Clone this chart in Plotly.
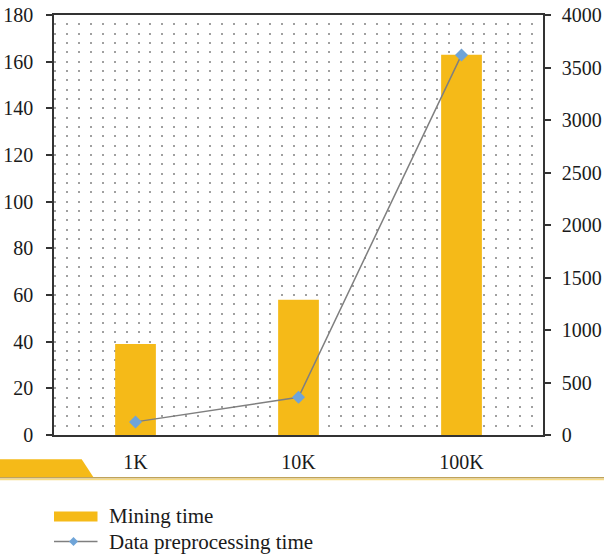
import plotly.graph_objects as go

categories = ["1K", "10K", "100K"]
mining_time = [39, 58, 163]
preprocessing_time = [125, 360, 3620]
left_ticks = list(range(0, 181, 20))
right_ticks = list(range(0, 4001, 500))

BAR = "#F5BA18"
FONT = "Liberation Serif"

W, H = 604, 557
L, R, T, B = 54, 543, 15, 435


def px(x):
    return (x - L) / (R - L)


def py(y):
    return (B - y) / (B - T)


fig = go.Figure()
fig.add_trace(go.Bar(x=categories, y=mining_time, name="Mining time",
                     marker=dict(color=BAR, line=dict(width=0)),
                     yaxis="y", showlegend=False))
fig.add_trace(go.Scatter(x=categories, y=preprocessing_time,
                         name="Data preprocessing time", mode="lines+markers",
                         line=dict(color="#7f7f7f", width=1.5),
                         marker=dict(symbol="diamond", size=10, color="#6FA4D8",
                                     line=dict(width=0)),
                         yaxis="y2", showlegend=False))

period = (R - L) / 41
dash = f"2px,{period - 2:.2f}px"

shapes = [
    # band bottom-left
    dict(type="path", xref="paper", yref="paper",
         path=f"M {px(0)},{py(459.3)} L {px(81.7)},{py(459.3)} L {px(93.3)},{py(477)} L {px(0)},{py(477)} Z",
         fillcolor=BAR, line=dict(width=0), layer="above"),
    dict(type="line", xref="paper", yref="paper",
         x0=px(0), x1=px(W), y0=py(477.7), y1=py(477.7),
         line=dict(color="#BFA35A", width=1.5)),
    dict(type="line", xref="paper", yref="paper",
         x0=px(0), x1=px(W), y0=py(479.4), y1=py(479.4),
         line=dict(color="#F8DC84", width=1.5)),
    # legend symbols
    dict(type="rect", xref="paper", yref="paper",
         x0=px(54), x1=px(97.5), y0=py(521.5), y1=py(511.5),
         fillcolor=BAR, line=dict(width=0)),
    dict(type="line", xref="paper", yref="paper",
         x0=px(54), x1=px(97.5), y0=py(541.5), y1=py(541.5),
         line=dict(color="#7f7f7f", width=1.5)),
    dict(type="path", xref="paper", yref="paper",
         path=f"M {px(73.5)},{py(537)} L {px(78)},{py(541.5)} L {px(73.5)},{py(546)} L {px(69)},{py(541.5)} Z",
         fillcolor="#6FA4D8", line=dict(width=0)),
]

annotations = [
    dict(text="Mining time", xref="paper", yref="paper", x=px(107), y=py(515.5),
         xanchor="left", yanchor="middle", showarrow=False,
         font=dict(family=FONT, size=21, color="#1a1a1a")),
    dict(text="Data preprocessing time", xref="paper", yref="paper", x=px(107), y=py(542),
         xanchor="left", yanchor="middle", showarrow=False,
         font=dict(family=FONT, size=21, color="#1a1a1a")),
]

fig.update_layout(
    template="none",
    width=W, height=H,
    margin=dict(l=L, r=W - R, t=T, b=H - B, pad=0, autoexpand=False),
    paper_bgcolor="white", plot_bgcolor="white",
    bargap=0.75,
    font=dict(family=FONT, size=20, color="#1a1a1a"),
    xaxis=dict(type="category", range=[-0.5, 2.5], showline=True, mirror=True,
               linecolor="#333333", linewidth=1.5, ticks="", showgrid=False,
               automargin=False,
               tickfont=dict(family=FONT, size=20), ticklabelstandoff=8),
    yaxis=dict(range=[0, 180], tickvals=left_ticks, showline=True,
               linecolor="#333333", linewidth=1.5, ticks="outside", ticklen=6,
               tickcolor="#333333", tickwidth=1.5, automargin=False,
               showgrid=True, gridcolor="#a0a0a0", gridwidth=2, griddash=dash,
               minor=dict(dtick=4, showgrid=True, gridcolor="#a0a0a0", gridwidth=2,
                          griddash=dash, ticks=""),
               zeroline=False, tickfont=dict(family=FONT, size=20),
               ticklabelstandoff=9),
    yaxis2=dict(range=[0, 4000], tickvals=right_ticks, overlaying="y", side="right",
                showline=True, linecolor="#333333", linewidth=1.5, automargin=False,
                ticks="outside", ticklen=6, tickcolor="#333333", tickwidth=1.5,
                showgrid=False, zeroline=False,
                tickfont=dict(family=FONT, size=20), ticklabelstandoff=7),
    shapes=shapes,
    annotations=annotations,
)

fig.write_html("out.html", config={"displayModeBar": False},
               post_script="document.body.style.margin='0';")
